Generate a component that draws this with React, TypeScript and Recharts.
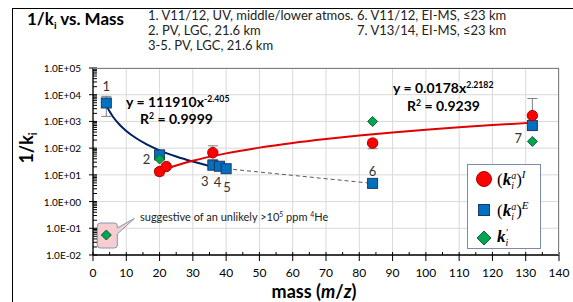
import React from 'react';
import {
  ComposedChart,
  Scatter,
  XAxis,
  YAxis,
  CartesianGrid,
  ErrorBar,
  ReferenceDot,
} from 'recharts';

// ---- data ----
const xTicks = [0, 5, 10, 15, 20, 25, 30, 35, 40, 45, 50, 55, 60, 65, 70, 75, 80, 85, 90, 95, 100, 105, 110, 115, 120, 125, 130, 135, 140];
const xGrid = [0, 10, 20, 30, 40, 50, 60, 70, 80, 90, 100, 110, 120, 130, 140];
const yDecades = [0.01, 0.1, 1, 10, 100, 1000, 10000, 100000];
const yMinorSteps = [2, 3, 4, 5, 6, 7, 8, 9];

// (k_i^a)^I  red circles, err = [below, above]
const seriesI = [
  { x: 20, y: 13.3, err: [4, 4] },
  { x: 22, y: 20.5 },
  { x: 36, y: 68, err: [30, 54] },
  { x: 84, y: 155, err: [60, 60] },
  { x: 132, y: 1650, err: [1000, 5550] },
];

// (k_i^a)^E  blue squares
const seriesE = [
  { x: 4, y: 4900, err: [3350, 3800] },
  { x: 20, y: 56 },
  { x: 36, y: 23 },
  { x: 38, y: 21 },
  { x: 40, y: 17 },
  { x: 84, y: 4.8 },
  { x: 132, y: 700 },
];

// k'_i  green diamonds
const seriesPrime = [
  { x: 4, y: 0.056 },
  { x: 20, y: 39 },
  { x: 84, y: 1000 },
  { x: 132, y: 178 },
];

// power trend lines
const trendE = [
  { x: 4, y: 3990 }, { x: 5, y: 2330 }, { x: 6, y: 1500 }, { x: 8, y: 753 },
  { x: 10, y: 440 }, { x: 13, y: 234 }, { x: 16, y: 142 }, { x: 20, y: 83 },
  { x: 25, y: 48.6 }, { x: 30, y: 31.4 }, { x: 35, y: 21.6 }, { x: 40, y: 15.7 },
];
const trendI = [
  { x: 20, y: 13.7 }, { x: 25, y: 22.5 }, { x: 30, y: 33.7 }, { x: 40, y: 63.8 },
  { x: 50, y: 104.5 }, { x: 60, y: 156.6 }, { x: 70, y: 220 }, { x: 80, y: 297 },
  { x: 90, y: 385 }, { x: 100, y: 486 }, { x: 110, y: 601 }, { x: 120, y: 729 },
  { x: 132, y: 902 },
];
// dashed link between points 5 and 6
const linkE = [seriesE[4], seriesE[5]];

const pointLabels = [
  { text: '1', x: 4, y: 4900 },
  { text: '2', x: 20, y: 39 },
  { text: '3', x: 36, y: 23 },
  { text: '4', x: 38, y: 21 },
  { text: '5', x: 40, y: 17 },
  { text: '6', x: 84, y: 4.8 },
  { text: '7', x: 132, y: 178 },
];

// ---- layout / style ----
const labelOffsets: Record<string, [number, number]> = {
  '1': [0, -17], '2': [-13, 0], '3': [-8, 16], '4': [-2, 16],
  '5': [1, 18], '6': [0, -12], '7': [-14, -3],
};
const FONT = 'Lato, "Open Sans", sans-serif';
const RED = '#ff0000';
const RED_DARK = '#b00000';
const BLUE = '#0070c0';
const BLUE_DARK = '#1f3864';
const GREEN = '#00a651';
const GREEN_DARK = '#1e5a2e';
const Y_TICK_SIZE = 6;
const Y_TICK_MARGIN = 6;
const X_TICK_SIZE = 6;
const X_TICK_MARGIN = 6;

const yTicks = [
  ...yDecades,
  ...yDecades.slice(0, -1).flatMap((d) => yMinorSteps.map((m) => d * m)),
];
const isDecade = (v: number) => Math.abs(Math.log10(v) - Math.round(Math.log10(v))) < 1e-9;
const fmtExp = (v: number) => {
  const e = Math.round(Math.log10(v));
  return `1.0E${e < 0 ? '-' : '+'}${String(Math.abs(e)).padStart(2, '0')}`;
};

function YTick(props: any) {
  const { x, y, payload } = props;
  const axisX = x + Y_TICK_SIZE + Y_TICK_MARGIN;
  const major = isDecade(payload.value);
  return (
    <g>
      <line x1={major ? axisX - 4 : axisX} x2={axisX + 4} y1={y} y2={y} stroke="#000" strokeWidth={1} />
      {major && (
        <text x={x} y={y} textAnchor="end" dominantBaseline="central" fontSize={10} fontFamily={FONT} fill="#000">
          {fmtExp(payload.value)}
        </text>
      )}
    </g>
  );
}

function XTick(props: any) {
  const { x, y, payload } = props;
  const axisY = y - X_TICK_SIZE - X_TICK_MARGIN;
  const major = payload.value % 10 === 0;
  return (
    <g>
      <line x1={x} x2={x} y1={axisY - 3} y2={major ? axisY + 6 : axisY} stroke="#000" strokeWidth={1} />
      {major && (
        <text x={x} y={y + 5} textAnchor="middle" dominantBaseline="central" fontSize={12} fontFamily={FONT} fill="#000">
          {payload.value}
        </text>
      )}
    </g>
  );
}

const circleShape = (p: any) => (
  <circle cx={p.cx} cy={p.cy} r={5.2} fill={RED} stroke={RED_DARK} strokeWidth={1} />
);
const squareShape = (p: any) => (
  <rect x={p.cx - 5} y={p.cy - 5} width={10} height={10} fill={BLUE} stroke={BLUE_DARK} strokeWidth={1} />
);
const diamondShape = (p: any) => (
  <polygon
    points={`${p.cx},${p.cy - 5} ${p.cx + 5},${p.cy} ${p.cx},${p.cy + 5} ${p.cx - 5},${p.cy}`}
    fill={GREEN}
    stroke={GREEN_DARK}
    strokeWidth={1}
  />
);
const noShape = () => <g />;
const labelShape = (p: any) => {
  const [dx, dy] = labelOffsets[p.payload.text] || [0, 0];
  return (
    <text x={p.cx + dx} y={p.cy + dy} textAnchor="middle" dominantBaseline="central" fontSize={13} fontFamily={FONT} fill="#333">
      {p.payload.text}
    </text>
  );
};
const calloutShape = (p: any) => {
  const { cx, cy } = p;
  const l = cx - 9, r = cx + 11, t = cy - 12, b = cy + 13;
  const d = `M ${l + 3} ${t} H ${r - 3} Q ${r} ${t} ${r} ${t + 3} V ${t + 5} L ${cx + 28} ${cy - 16.5} L ${r} ${t + 11} V ${b - 3} Q ${r} ${b} ${r - 3} ${b} H ${l + 3} Q ${l} ${b} ${l} ${b - 3} V ${t + 3} Q ${l} ${t} ${l + 3} ${t} Z`;
  return <path d={d} fill="#f6cdd0" stroke="#8497b0" strokeWidth={1} />;
};

function Abs({ left, top, children, style }: { left: number; top: number; children: React.ReactNode; style?: React.CSSProperties }) {
  return (
    <div style={{ position: 'absolute', left, top, whiteSpace: 'nowrap', fontFamily: FONT, lineHeight: 1, ...style }}>
      {children}
    </div>
  );
}

const supStyle: React.CSSProperties = { fontSize: '0.62em', verticalAlign: '0.55em' };

function KLabel({ top, sup }: { top: string; sup?: string }) {
  return (
    <span style={{ fontFamily: '"Liberation Serif", serif', fontSize: 17, color: '#000' }}>
      {sup && '('}
      <i style={{ fontWeight: 600 }}>k</i>
      <span style={{ display: 'inline-flex', flexDirection: 'column', verticalAlign: 'middle', fontSize: 10, lineHeight: '10px', fontStyle: 'italic' }}>
        <span>{top}</span>
        <span>i</span>
      </span>
      {sup && ')'}
      {sup && <i style={{ fontSize: 11, verticalAlign: '0.6em' }}>{sup}</i>}
    </span>
  );
}

export default function App() {
  return (
    <div style={{ position: 'absolute', left: 0, top: 0, width: 573, height: 302, background: '#fff', overflow: 'hidden' }}>
      <div style={{ position: 'absolute', left: 12, top: 8, width: 600, height: 320, border: '1.5px solid #000' }} />

      <ComposedChart width={573} height={302} margin={{ top: 68, right: 14, bottom: 17, left: 13 }} style={{ position: 'absolute', left: 0, top: 0 }}>
        <CartesianGrid stroke="#d9d9d9" strokeWidth={1} horizontalValues={yDecades} verticalValues={xGrid} />
        <XAxis
          type="number"
          dataKey="x"
          domain={[0, 140]}
          ticks={xTicks}
          interval={0}
          height={30}
          tickSize={X_TICK_SIZE}
          tickMargin={X_TICK_MARGIN}
          tickLine={false}
          tick={<XTick />}
          axisLine={{ stroke: '#000', strokeWidth: 1.3 }}
          allowDataOverflow
        />
        <YAxis
          type="number"
          dataKey="y"
          scale="log"
          domain={[0.01, 100000]}
          ticks={yTicks}
          interval={0}
          width={80}
          tickSize={Y_TICK_SIZE}
          tickMargin={Y_TICK_MARGIN}
          tickLine={false}
          tick={<YTick />}
          axisLine={{ stroke: '#000', strokeWidth: 1.3 }}
          allowDataOverflow
        />
        <ReferenceDot x={seriesPrime[0].x} y={seriesPrime[0].y} r={0} shape={calloutShape} />
        <Scatter data={trendE} shape={noShape} line={{ stroke: '#002060', strokeWidth: 2 }} lineJointType="monotoneX" isAnimationActive={false} />
        <Scatter data={trendI} shape={noShape} line={{ stroke: '#e00000', strokeWidth: 2 }} lineJointType="monotoneX" isAnimationActive={false} />
        <Scatter data={linkE} shape={noShape} line={{ stroke: '#595959', strokeWidth: 1, strokeDasharray: '4 3' }} lineJointType="linear" isAnimationActive={false} />
        <Scatter data={seriesE} shape={squareShape} isAnimationActive={false}>
          <ErrorBar dataKey="err" direction="y" width={5} stroke="#7f7f7f" strokeWidth={1} />
        </Scatter>
        <Scatter data={seriesI} shape={circleShape} isAnimationActive={false}>
          <ErrorBar dataKey="err" direction="y" width={5} stroke="#7f7f7f" strokeWidth={1} />
        </Scatter>
        <Scatter data={seriesPrime} shape={diamondShape} isAnimationActive={false} />
        <Scatter data={pointLabels} shape={labelShape} isAnimationActive={false} />
      </ComposedChart>

      {/* plot-area frame (top / right) */}
      <div style={{ position: 'absolute', left: 93, top: 68, width: 466, height: 187, borderTop: '1px solid #7f7f7f', borderRight: '1px solid #7f7f7f', boxSizing: 'border-box' }} />

      <Abs left={27} top={10} style={{ fontSize: 17, fontWeight: 700 }}>
        1/k<sub style={{ fontSize: '0.6em' }}>i</sub> vs. Mass
      </Abs>
      <Abs left={148} top={8} style={{ fontSize: 13, lineHeight: '15px', color: '#222' }}>
        <div>1. V11/12, UV, middle/lower atmos.</div>
        <div>2. PV, LGC, 21.6 km</div>
        <div>3-5. PV, LGC, 21.6 km</div>
      </Abs>
      <Abs left={357} top={8} style={{ fontSize: 13, lineHeight: '15px', color: '#222' }}>
        <div>6. V11/12, EI-MS, ≤23 km</div>
        <div>7. V13/14, EI-MS, ≤23 km</div>
      </Abs>

      <Abs left={28} top={148} style={{ fontSize: 18, fontWeight: 700, transform: 'translate(-50%, -50%) rotate(-90deg)' }}>
        1/k<sub style={{ fontSize: '0.6em' }}>i</sub>
      </Abs>
      <Abs left={314} top={291} style={{ fontSize: 18, fontWeight: 700, transform: 'translate(-50%, -50%)' }}>
        mass (<i>m</i>/<i>z</i>)
      </Abs>

      <Abs left={126} top={95} style={{ fontSize: 14, fontWeight: 700 }}>
        y = 111910x<span style={supStyle}>-2.405</span>
      </Abs>
      <Abs left={140} top={112} style={{ fontSize: 14, fontWeight: 700 }}>
        R<span style={supStyle}>2</span> = 0.9999
      </Abs>
      <Abs left={393} top={81} style={{ fontSize: 14, fontWeight: 700 }}>
        y = 0.0178x<span style={supStyle}>2.2182</span>
      </Abs>
      <Abs left={407} top={99} style={{ fontSize: 14, fontWeight: 700 }}>
        R<span style={supStyle}>2</span> = 0.9239
      </Abs>

      <Abs left={140} top={211} style={{ fontSize: 11, color: '#222' }}>
        suggestive of an unlikely &gt;10<span style={supStyle}>5</span> ppm <span style={supStyle}>4</span>He
      </Abs>

      {/* legend */}
      <div style={{ position: 'absolute', left: 467, top: 164, width: 74, height: 85, boxSizing: 'border-box', border: '1px solid #7b8aa6', background: '#fff' }}>
        <svg width={24} height={85} style={{ position: 'absolute', left: 4, top: 0 }}>
          <circle cx={12} cy={14} r={7.5} fill={RED} stroke={RED_DARK} strokeWidth={1} />
          <rect x={6.5} y={39.5} width={11} height={11} fill={BLUE} stroke={BLUE_DARK} strokeWidth={1} />
          <polygon points="12,66 19,73 12,80 5,73" fill={GREEN} stroke={GREEN_DARK} strokeWidth={1} />
        </svg>
        <div style={{ position: 'absolute', left: 29, top: 3 }}>
          <KLabel top="a" sup="I" />
        </div>
        <div style={{ position: 'absolute', left: 29, top: 34 }}>
          <KLabel top="a" sup="E" />
        </div>
        <div style={{ position: 'absolute', left: 29, top: 62 }}>
          <KLabel top="′" />
        </div>
      </div>
    </div>
  );
}
